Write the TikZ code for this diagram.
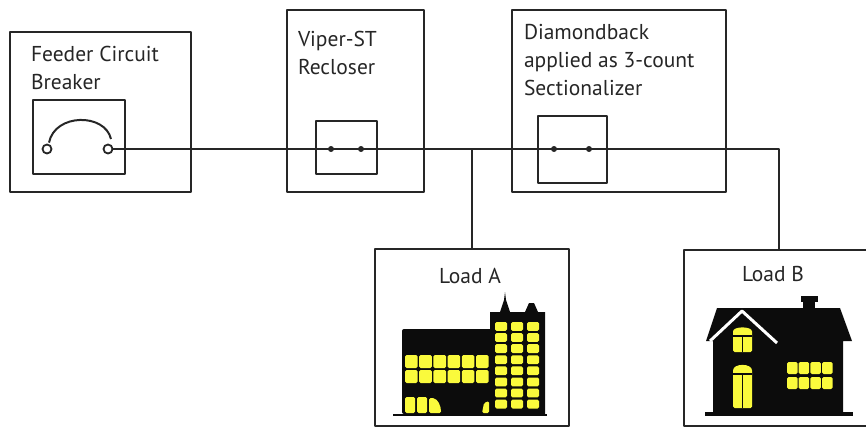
\documentclass[tikz,border=0pt]{standalone}
\usepackage{fontspec}
\setmainfont{PT Sans}
\usetikzlibrary{positioning}

\begin{document}
\begin{tikzpicture}[
            x = 1pt, y = -1pt, % one unit per pixel, y downwards
            line width = 2pt, % line style
            line join = round
        ]

        \definecolor{lamp}{RGB}{250,250,60}
        \definecolor{night}{RGB}{12,12,12}

        \tikzstyle{unit}=[
            draw = black!85,
            rectangle,
            inner sep = 0pt
        ]
        \tikzstyle{caption}=[
            inner sep = 0pt,
            align = left,
            anchor = north west,
            text = black!85,
            font = \fontsize{21.5}{28}\selectfont
        ]
        \tikzstyle{terminal}=[draw = black!85, circle, fill = white, inner sep = 0pt, minimum size = 9pt, line width = 1.8pt]
        \tikzstyle{contact}=[fill = black!85, circle, inner sep = 0pt, minimum size = 6pt]
        \tikzstyle{window}=[fill = lamp, rounded corners = 1.5pt]

        \clip (0,0) rectangle (866,428);

        % boxes
        \node[unit, minimum width = 181pt, minimum height = 160pt] (breaker) at (100.5,112) {};
        \node[unit, minimum width = 92pt, minimum height = 74pt] (breakerSw) at (79,137) {};
        \node[unit, minimum width = 137pt, minimum height = 182pt] (recloser) at (355.5,101) {};
        \node[unit, minimum width = 61pt, minimum height = 53pt] (recloserSw) at (346.5,147.5) {};
        \node[unit, minimum width = 214pt, minimum height = 182pt] (sectionalizer) at (619,101) {};
        \node[unit, minimum width = 69pt, minimum height = 67pt] (sectionalizerSw) at (572.5,149.5) {};
        \node[unit, minimum width = 194pt, minimum height = 177pt] (loadA) at (472,337.5) {};
        \node[unit, minimum width = 200pt, minimum height = 176pt] (loadB) at (784,338) {};

        % texts
        \node[caption] (breakerText) at (30,45) {Feeder Circuit\\Breaker};
        \node[caption] (recloserText) at (297,30) {Viper-ST\\Recloser};
        \node[caption] (sectionalizerText) at (523,23) {Diamondback\\applied as 3-count\\Sectionalizer};
        \node[caption, anchor = north] (loadAText) at (470,267) {Load A};
        \node[caption, anchor = north] (loadBText) at (773,265) {Load B};

        % feeder
        \node[terminal] (t1) at (47,149) {};
        \node[terminal] (t2) at (108,149) {};
        \coordinate (tapA) at (472,149);
        \coordinate (tapB) at (779,149);
        \draw[black!85] (t2.east) -- (tapB) -- (tapB |- loadB.north);
        \draw[black!85] (tapA) -- (tapA |- loadA.north);
        \draw[black!85] (t1.north) ++(2,-1) .. controls (55,113) and (105,113) .. (111,139);
        \node[contact] (c1) at (331,149) {};
        \node[contact] (c2) at (361,149) {};
        \node[contact] (c3) at (554,149) {};
        \node[contact] (c4) at (589,149) {};

        % Load A: office block and tower
        \fill[night, rounded corners = 2pt] (402,414) -- (402,329) -- (492,329) -- (492,414) -- cycle;
        \fill[night] (490,414) -- (490,312) -- (500,312) -- (504,300) -- (505,292) -- (506,300) -- (510,312)
            -- (525,312) -- (529,303) -- (534,303) -- (538,312) -- (545,312) -- (545,414) -- cycle;
        \draw[night] (393,415) -- (547,415);
        \foreach \c in {0,...,5}
            \foreach \r in {355,370}
                \fill[window] ({405+\c*14.2},\r) rectangle +(12.6,13);
        \foreach \c in {495,511,527}
            \foreach \r in {0,...,7}
                \fill[window] (\c,{322+\r*11.1}) rectangle +(12,8.8);
        \fill[window] (405,397) rectangle (415,413);
        \fill[window] (417,397) rectangle (427,413);
        \fill[window] (429,413) |- (432,398) .. controls (438,399) and (441,406) .. (441,413) -- cycle;
        \fill[window] (482,413) -- (484,403) -- (489,401) -- (489,413) -- cycle;

        % Load B: house
        \fill[night] (705,412) rectangle (853,416);
        \fill[night] (713,413) -- (713,341) -- (706,341) -- (717,308) -- (840,308) -- (852,341)
            -- (843,341) -- (843,413) -- cycle;
        \fill[night] (803,310) rectangle (815,301);
        \fill[night] (801,296) rectangle (818,302);
        \draw[white, line width = 3pt] (710,341) -- (742,311) -- (777,343);
        \fill[window] (733,352) -- (733,333) .. controls (733,326) and (752,326) .. (752,333) -- (752,352) -- cycle;
        \fill[window] (733,408) -- (733,372) .. controls (733,363) and (752,363) .. (752,372) -- (752,408) -- cycle;
        \draw[night, line width = 1.5pt] (733,336) -- (752,336) (742.5,336) -- (742.5,352);
        \draw[night, line width = 1.5pt] (733,374) -- (752,374) (742.5,374) -- (742.5,408);
        \foreach \c in {0,...,3}
            \foreach \r in {362,377}
                \fill[window] ({787+\c*11.7},\r) rectangle +(10.5,12);
    \end{tikzpicture}
\end{document}
